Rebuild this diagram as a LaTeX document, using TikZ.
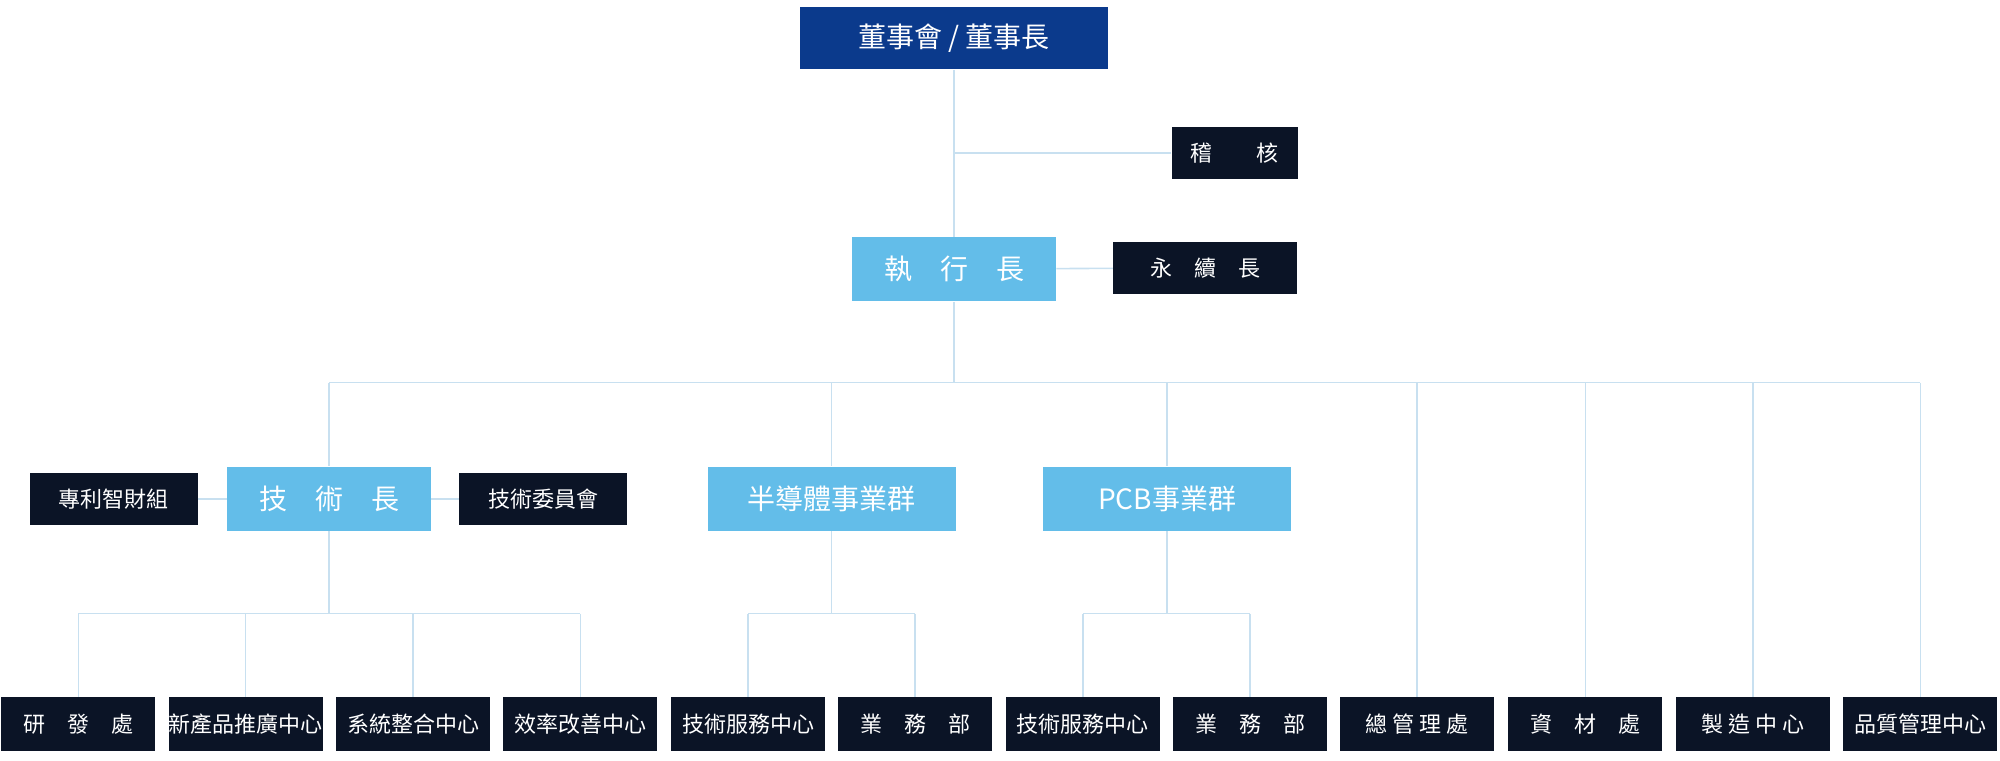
\documentclass[tikz,border=0pt]{standalone}
\usepackage{fontspec}
\setmainfont{Noto Sans CJK TC}
\usetikzlibrary{positioning}

\definecolor{boardblue}{HTML}{0B3A8C}
\definecolor{headblue}{HTML}{63BDE9}
\definecolor{unitnavy}{HTML}{0B1426}
\definecolor{linkblue}{HTML}{C8E0F0}

\tikzset{
  board/.style={fill=boardblue, text=white, font=\fontsize{14}{16}\selectfont, minimum width=154pt, minimum height=31pt, inner sep=0pt},
  head/.style={fill=headblue, text=white, font=\fontsize{14}{16}\selectfont, minimum width=102pt, minimum height=32pt, inner sep=0pt},
  side/.style={fill=unitnavy, text=white, font=\fontsize{11}{13}\selectfont, minimum height=26pt, inner sep=0pt},
  unit/.style={fill=unitnavy, text=white, font=\fontsize{11}{13}\selectfont, minimum width=77pt, minimum height=27pt, inner sep=0pt},
  link/.style={draw=linkblue, line width=0.8pt},
}

\begin{document}
\begin{tikzpicture}[x=0.6378pt, y=-0.6378pt]

    \useasboundingbox (0,0) rectangle (1568,596);

    % Top levels
    \node[board] (board) at (748,30) {董事會 / 董事長};
    \node[side, minimum width=63pt] (audit) at (968,120) {稽　　核};
    \node[head] (ceo) at (748,211) {執　行　長};
    \node[side, minimum width=92pt] (esg) at (945,210) {永　續　長};

    % Middle level
    \node[head] (cto) at (258,391) {技　術　長};
    \node[side, minimum width=84pt] (patent) at (89,391) {專利智財組};
    \node[side, minimum width=84pt] (techcom) at (426,391) {技術委員會};
    \node[head, minimum width=124pt] (semi) at (652,391) {半導體事業群};
    \node[head, minimum width=124pt] (pcb) at (915,391) {PCB事業群};

    % Bottom units
    \node[unit] (rd) at (61.5,568) {研　發　處};
    \node[unit] (newprod) at (192.5,568) {新產品推廣中心};
    \node[unit] (sysint) at (324,568) {系統整合中心};
    \node[unit] (effic) at (455,568) {效率改善中心};
    \node[unit] (semisvc) at (586.5,568) {技術服務中心};
    \node[unit] (semisales) at (717.5,568) {業　務　部};
    \node[unit] (pcbsvc) at (849,568) {技術服務中心};
    \node[unit] (pcbsales) at (980,568) {業　務　部};
    \node[unit] (admin) at (1111,568) {總 管 理 處};
    \node[unit] (material) at (1243,568) {資　材　處};
    \node[unit] (mfg) at (1374.5,568) {製 造 中 心};
    \node[unit] (qa) at (1505.5,568) {品質管理中心};

    \coordinate (bus) at (748,300);
    \coordinate (ctobus) at (258,481);
    \coordinate (semibus) at (652,481);
    \coordinate (pcbbus) at (915,481);

    % Connectors
    \draw[link] (board) -- (ceo);
    \draw[link] (audit.west) -- (audit.west -| board);
    \draw[link] (ceo) -- (esg);
    \draw[link] (ceo) -- (bus);
    \draw[link] (bus -| cto) -- (bus -| qa);
    \foreach \n in {cto, semi, pcb}
        \draw[link] (bus -| \n) -- (\n);
    \foreach \n in {admin, material, mfg, qa}
        \draw[link] (bus -| \n) -- (\n);
    \draw[link] (patent) -- (cto);
    \draw[link] (cto) -- (techcom);

    \draw[link] (cto) -- (ctobus);
    \draw[link] (ctobus -| rd) -- (ctobus -| effic);
    \foreach \n in {rd, newprod, sysint, effic}
        \draw[link] (ctobus -| \n) -- (\n);
    \draw[link] (semi) -- (semibus);
    \draw[link] (semibus -| semisvc) -- (semibus -| semisales);
    \foreach \n in {semisvc, semisales}
        \draw[link] (semibus -| \n) -- (\n);
    \draw[link] (pcb) -- (pcbbus);
    \draw[link] (pcbbus -| pcbsvc) -- (pcbbus -| pcbsales);
    \foreach \n in {pcbsvc, pcbsales}
        \draw[link] (pcbbus -| \n) -- (\n);

\end{tikzpicture}
\end{document}
